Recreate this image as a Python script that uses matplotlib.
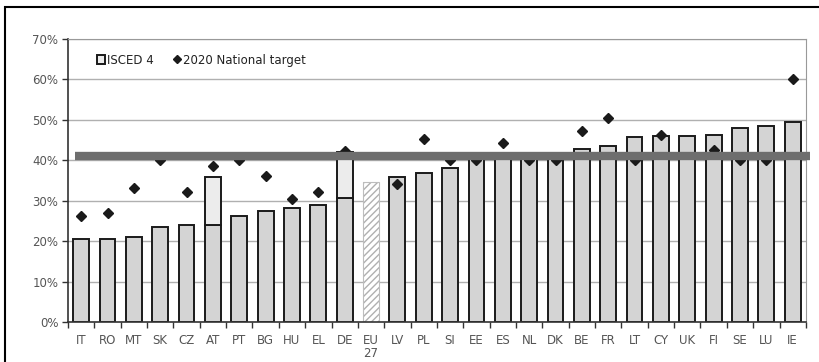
import numpy as np
import matplotlib
matplotlib.use("Agg")
import matplotlib.pyplot as plt
from matplotlib.patches import Patch, Rectangle
from matplotlib.lines import Line2D

countries = ["IT", "RO", "MT", "SK", "CZ", "AT", "PT", "BG", "HU", "EL", "DE", "EU\n27", "LV",
             "PL", "SI", "EE", "ES", "NL", "DK", "BE", "FR", "LT", "CY", "UK", "FI", "SE", "LU", "IE"]
# tertiary attainment (ISCED 5-6), %
tertiary = [20.4, 20.4, 21.0, 23.4, 23.9, 23.9, 26.2, 27.3, 28.1, 29.0, 30.7, 34.6, 35.7,
            36.9, 38.1, 40.3, 40.6, 40.5, 40.7, 42.7, 43.5, 45.6, 46.0, 46.0, 46.3, 47.8, 48.4, 49.4]
# extra ISCED 4 part
isced4 = [0, 0, 0, 0, 0, 12.0, 0, 0, 0, 0, 11.3, 0, 0,
          0, 0, 0, 0, 0, 0, 0, 0, 0, 0, 0, 0, 0, 0, 0]
# 2020 national targets (None = no target)
target = [26.2, 26.8, 33.0, 40, 32.2, 38.5, 40, 36.1, 30.4, 32.2, 42.2, None, 34.2,
          45.1, 40, 40, 44.3, 40, 40, 47.2, 50.3, 40, 46.2, None, 42.5, 40, 40, 60]
eu_benchmark = 41.0

n = len(countries)
x = np.arange(n)

fig = plt.figure(figsize=(8.19, 3.62), dpi=100)
ax = fig.add_axes([0.083, 0.1105, 0.901, 0.783])

for i in range(n):
    if countries[i].startswith("EU"):
        ax.bar(x[i], tertiary[i], width=0.6, color="white", edgecolor="#b0b0b0",
               hatch="/////", linewidth=0)
        ax.bar(x[i], tertiary[i], width=0.6, color="none", edgecolor="#bdbdbd", linewidth=0.8)
    else:
        ax.bar(x[i], tertiary[i], width=0.6, color="#d4d4d4", edgecolor="#1a1a1a", linewidth=1.4)
        if isced4[i] > 0:
            ax.bar(x[i], isced4[i], bottom=tertiary[i], width=0.6, color="#ececec",
                   edgecolor="#1a1a1a", linewidth=1.4)

tx = [x[i] for i in range(n) if target[i] is not None]
ty = [target[i] for i in range(n) if target[i] is not None]
ax.plot(tx, ty, linestyle="none", marker="D", markersize=5, color="#1a1a1a", zorder=5)

ax.plot([0.01, 1.006], [eu_benchmark, eu_benchmark], transform=ax.get_yaxis_transform(),
        color="#6e6e6e", linewidth=6, solid_capstyle="butt", clip_on=False, zorder=6)

ax.set_ylim(0, 70)
ax.set_xlim(-0.5, n - 0.5)
ax.set_yticks(np.arange(0, 71, 10))
ax.set_yticklabels([f"{v}%" for v in range(0, 71, 10)])
ax.yaxis.grid(True, color="#b0b0b0", linewidth=1)
ax.set_axisbelow(True)

ax.set_xticks(x)
ax.set_xticklabels(countries, linespacing=0.95)
ax.set_xticks(np.arange(-0.5, n, 1), minor=True)
ax.tick_params(axis="x", which="major", length=0, labelsize=8.5, colors="#555555", pad=9)
ax.tick_params(axis="x", which="minor", length=4, width=1, color="#333333", direction="out")
ax.tick_params(axis="y", length=4, width=1, color="#333333", labelsize=8.5,
               labelcolor="#555555", pad=3)

for s in ["top", "right"]:
    ax.spines[s].set_color("#999999")
ax.spines["left"].set_color("#333333")
ax.spines["bottom"].set_color("#333333")
ax.spines["bottom"].set_linewidth(1.2)
ax.spines["left"].set_linewidth(1.2)

handles = [Patch(facecolor="#ececec", edgecolor="#1a1a1a", linewidth=1.4),
           Line2D([], [], linestyle="none", marker="D", markersize=4.5, color="#1a1a1a")]
ax.legend(handles, ["ISCED 4", "2020 National target"], ncol=2, frameon=False,
          loc="center left", bbox_to_anchor=(0.025, 0.924), fontsize=8.5,
          handlelength=0.7, handletextpad=0.15, columnspacing=1.6, labelcolor="#222222")

fig.patches.append(Rectangle((0.006, -0.05), 1.1, 1.03, transform=fig.transFigure,
                             fill=False, edgecolor="black", linewidth=1.5))

fig.savefig("out.png", dpi=100)
